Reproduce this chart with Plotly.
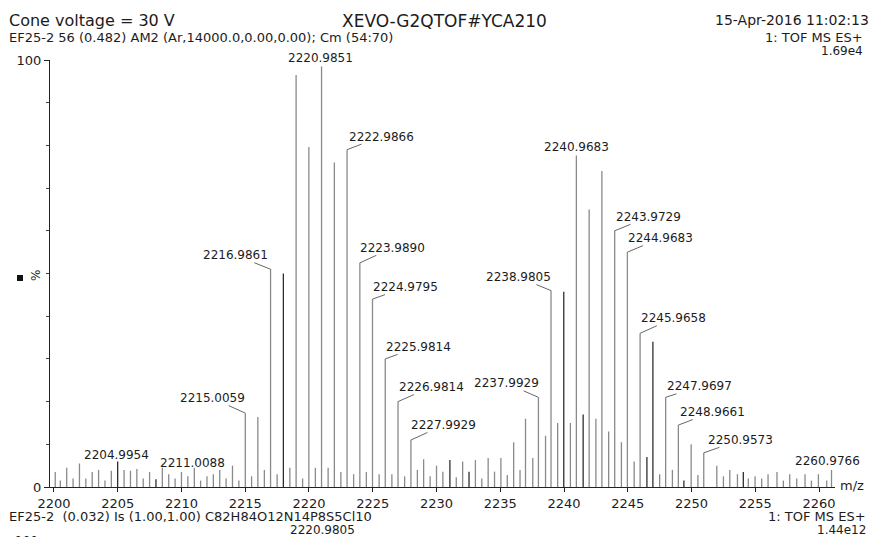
import plotly.graph_objects as go

# ---------------- data (m/z, relative intensity %) ----------------
mz_grey = [2200.10, 2200.50, 2201.00, 2201.50, 2202.00, 2202.50, 2203.00, 2203.50, 2204.00, 2204.50,
           2205.50, 2206.00, 2206.50, 2207.00, 2207.50, 2208.50, 2209.00, 2209.50, 2210.00, 2210.50,
           2211.0088, 2211.50, 2212.00, 2212.50, 2213.00, 2213.50, 2214.00, 2214.50,
           2215.0059, 2215.50, 2215.99, 2216.50, 2216.9861, 2217.50, 2218.50, 2218.99, 2219.50, 2219.99,
           2220.50, 2220.9851, 2221.50, 2221.99, 2222.50, 2222.9866, 2223.50, 2223.9890, 2224.50, 2224.9795,
           2225.50, 2225.9814, 2226.50, 2226.9814, 2227.50, 2227.9929, 2228.50, 2228.99, 2229.50, 2230.00,
           2230.50, 2231.55, 2232.05, 2233.05, 2233.55, 2234.05, 2234.55, 2235.05, 2235.55, 2236.05,
           2236.55, 2236.98, 2237.55, 2237.9929, 2238.55, 2238.9805, 2239.50, 2240.50, 2240.9683, 2241.97,
           2242.50, 2242.97, 2243.50, 2243.9729, 2244.50, 2244.9683, 2245.50, 2245.9658, 2247.50, 2247.9697,
           2248.50, 2248.9661, 2249.97, 2250.50, 2250.9573,
           2251.98, 2252.50, 2253.00, 2253.60, 2254.45, 2254.98, 2255.50, 2256.00, 2256.70, 2257.20,
           2257.70, 2258.25, 2258.90, 2259.40, 2259.95, 2260.60, 2260.9766]
int_grey = [3.5, 1.5, 4.5, 2.0, 5.5, 2.0, 3.5, 4.0, 1.5, 3.8,
            4.0, 3.8, 4.2, 2.0, 3.5, 4.5, 3.0, 2.0, 3.5, 2.5,
            4.5, 1.5, 2.5, 3.0, 4.0, 2.0, 5.0, 1.5,
            17.3, 2.5, 16.4, 4.0, 51.0, 3.0, 4.5, 96.5, 2.0, 79.6,
            4.5, 100.0, 4.5, 76.0, 3.5, 79.0, 3.0, 52.5, 3.5, 44.0,
            3.0, 30.0, 3.0, 20.0, 2.5, 11.0, 4.0, 6.5, 2.5, 5.0,
            3.6, 2.3, 6.0, 6.3, 2.0, 6.8, 3.6, 6.8, 2.8, 10.5,
            4.0, 16.0, 6.8, 21.0, 12.0, 46.0, 15.0, 15.0, 78.0, 65.0,
            16.0, 74.0, 13.0, 60.0, 10.5, 55.0, 6.0, 36.0, 3.0, 21.0,
            4.0, 14.5, 10.0, 2.8, 8.0,
            5.0, 2.5, 4.0, 3.0, 2.0, 2.5, 2.0, 3.0, 3.5, 1.5,
            3.0, 2.0, 3.0, 1.5, 3.0, 1.5, 4.0]

mz_dark = [2204.9954, 2208.00, 2217.99, 2231.05, 2232.55, 2239.98, 2241.50, 2246.50, 2246.97, 2249.40, 2254.06]
int_dark = [6.0, 1.8, 50.0, 6.3, 3.6, 45.7, 17.0, 7.0, 34.0, 1.5, 3.5]

label_mz = [2204.9954, 2211.0088, 2215.0059, 2216.9861, 2220.9851, 2222.9866, 2223.9890, 2224.9795,
            2225.9814, 2226.9814, 2227.9929, 2237.9929, 2238.9805, 2240.9683, 2243.9729, 2244.9683,
            2245.9658, 2247.9697, 2248.9661, 2250.9573, 2260.9766]

x_ticks = [2200, 2205, 2210, 2215, 2220, 2225, 2230, 2235, 2240, 2245, 2250, 2255, 2260]
y_ticks = [0, 100]
y_minor = [10, 20, 30, 40, 50, 60, 70, 80, 90]

# ---------------- styles / label placement (pixel offsets) ----------------
# ('arrow', ax, ay) -> leader line ; ('above', xshift, yshift) -> plain label
label_place = {
    2204.9954: ('above', -1.5, 6.4), 2211.0088: ('above', -1.5, 4.8),
    2215.0059: ('arrow', -33, -15), 2216.9861: ('arrow', -35, -14),
    2220.9851: ('above', -1, 2.5), 2222.9866: ('arrow', 34, -13),
    2223.9890: ('arrow', 33, -15), 2224.9795: ('arrow', 33.5, -12),
    2225.9814: ('arrow', 33, -12), 2226.9814: ('arrow', 33, -14.5),
    2227.9929: ('arrow', 33, -15), 2237.9929: ('arrow', -32, -14),
    2238.9805: ('arrow', -33, -13.5), 2240.9683: ('above', 0, 7),
    2243.9729: ('arrow', 34, -14), 2244.9683: ('arrow', 33.5, -14),
    2245.9658: ('arrow', 33.5, -15), 2247.9697: ('arrow', 34, -11),
    2248.9661: ('arrow', 34, -13), 2250.9573: ('arrow', 37, -13),
    2260.9766: ('above', -4.5, 9),
}

FONT = "DejaVu Sans"
TXT = "#1c1c1c"
L, R, T, B = 50, 835, 60, 487
W, H = 873, 537


def px(x):
    return (x - L) / (R - L)


def py(y):
    return (B - y) / (B - T)


def sticks(mz, ints):
    xs, ys = [], []
    for m, h in zip(mz, ints):
        xs += [m, m, None]
        ys += [0, h, None]
    return xs, ys


fig = go.Figure()
gx, gy = sticks(mz_grey, int_grey)
dx, dy = sticks(mz_dark, int_dark)
fig.add_trace(go.Scatter(x=gx, y=gy, mode="lines", line=dict(color="#8a8a8a", width=1.3),
                         hoverinfo="skip"))
fig.add_trace(go.Scatter(x=dx, y=dy, mode="lines", line=dict(color="#2e2e2e", width=1.3),
                         hoverinfo="skip"))

all_peaks = dict(zip(mz_grey, int_grey))
all_peaks.update(dict(zip(mz_dark, int_dark)))

ann = []
for m in label_mz:
    h = all_peaks[m]
    kind, a, b = label_place[m]
    txt = f"{m:.4f}"
    if kind == 'arrow':
        ann.append(dict(x=m, y=h, xref="x", yref="y", text=txt, showarrow=True,
                        ax=a, ay=b, arrowhead=0, arrowwidth=0.9, arrowcolor="#555",
                        standoff=0, font=dict(family=FONT, size=12, color=TXT),
                        borderpad=0))
    else:
        bg = "white" if h > 50 else "rgba(0,0,0,0)"
        ann.append(dict(x=m, y=h, xref="x", yref="y", text=txt, showarrow=False,
                        xanchor="center", yanchor="middle", xshift=a, yshift=b,
                        bgcolor=bg, font=dict(family=FONT, size=12, color=TXT)))


def text(x, y, s, size, anchor="left", yanchor="middle", angle=0):
    ann.append(dict(x=px(x), y=py(y), xref="paper", yref="paper", text=s, showarrow=False,
                    xanchor=anchor, yanchor=yanchor, textangle=angle, borderpad=0,
                    font=dict(family=FONT, size=size, color=TXT)))


text(8, 21, "Cone voltage = 30 V", 16)
text(444, 21, "XEVO-G2QTOF#YCA210", 17, "center")
text(870, 20, "15-Apr-2016 11:02:13", 14, "right")
text(8, 38, "EF25-2 56 (0.482) AM2 (Ar,14000.0,0.00,0.00); Cm (54:70)", 13)
text(864, 38, "1: TOF MS ES+", 13, "right")
text(864, 51, "1.69e4", 12, "right")
text(852, 485, "m/z", 13, "center")
text(36, 276, "%", 12, "center", angle=-90)
text(8, 516, "EF25-2  (0.032) Is (1.00,1.00) C82H84O12N14P8S5Cl10", 13)
text(322, 530, "2220.9805", 12, "center")
text(867, 516, "1: TOF MS ES+", 13, "right")
text(867, 530, "1.44e12", 12, "right")
text(14, 533, "100", 12, "left", yanchor="top")

fig.update_layout(
    width=W, height=537,
    margin=dict(l=L, r=W - R, t=T, b=H - B),
    plot_bgcolor="white", paper_bgcolor="white",
    showlegend=False,
    font=dict(family=FONT, color=TXT),
    annotations=ann,
    shapes=[dict(type="rect", xref="paper", yref="paper",
                 x0=px(17), x1=px(23), y0=py(281), y1=py(275),
                 fillcolor="#111", line=dict(width=0))],
    xaxis=dict(range=[2199.69, 2261.25], showline=True, linecolor="#222", linewidth=1,
               ticks="outside", ticklen=4, tickcolor="#222", tickvals=x_ticks,
               tickfont=dict(family=FONT, size=13, color=TXT),
               showgrid=False, zeroline=False, fixedrange=True),
    yaxis=dict(range=[0, 100], showline=True, linecolor="#222", linewidth=1,
               ticks="outside", ticklen=5, tickcolor="#222", tickvals=y_ticks,
               ticktext=[str(v) for v in y_ticks],
               tickfont=dict(family=FONT, size=13, color=TXT),
               minor=dict(tickmode="array", tickvals=y_minor, ticks="outside", ticklen=3,
                          tickcolor="#444"),
               showgrid=False, zeroline=False, fixedrange=True),
)

fig.write_html("out.html", config={"displayModeBar": False},
               post_script="document.body.style.margin='0';document.body.style.overflow='hidden';")
